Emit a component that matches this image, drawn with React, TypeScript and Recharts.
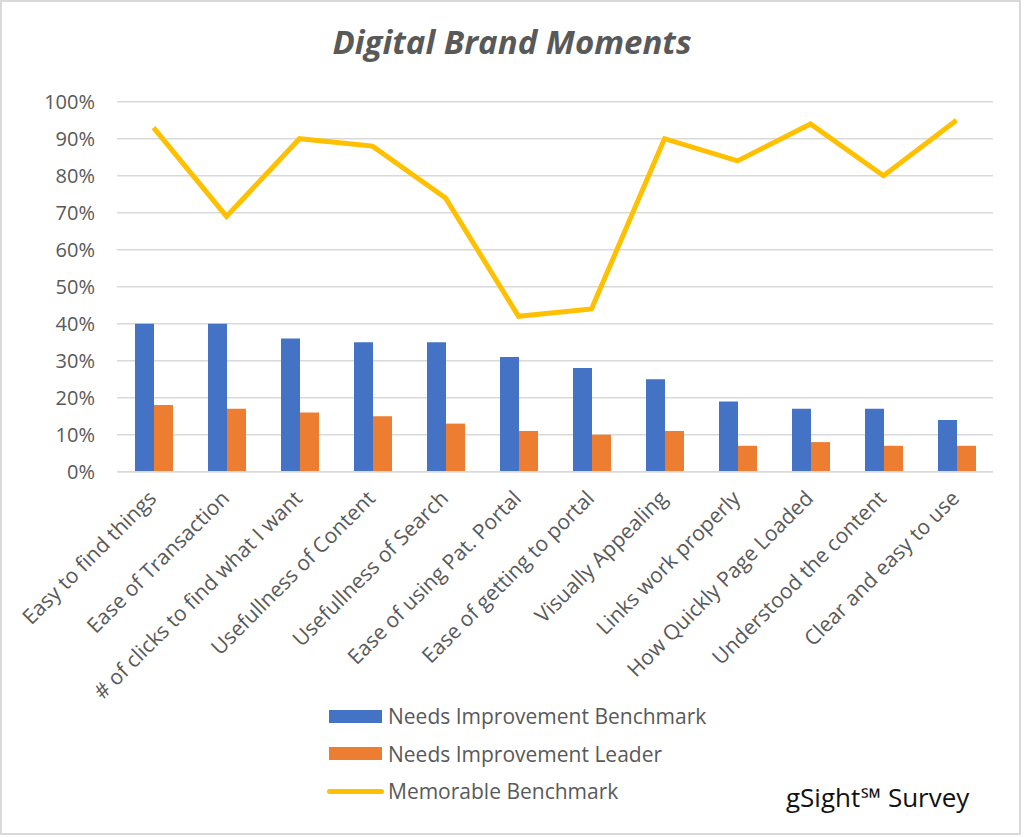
import React from "react";
import { ComposedChart, Bar, Line, XAxis, YAxis, CartesianGrid } from "recharts";

const categories = [
  "Easy to find things",
  "Ease of Transaction",
  "# of clicks to find what I want",
  "Usefullness of Content",
  "Usefullness of Search",
  "Ease of using Pat. Portal",
  "Ease of getting to portal",
  "Visually Appealing",
  "Links work properly",
  "How Quickly Page Loaded",
  "Understood the content",
  "Clear and easy to use",
];
const needsImprovementBenchmark = [40, 40, 36, 35, 35, 31, 28, 25, 19, 17, 17, 14];
const needsImprovementLeader = [18, 17, 16, 15, 13, 11, 10, 11, 7, 8, 7, 7];
const memorableBenchmark = [93, 69, 90, 88, 74, 42, 44, 90, 84, 94, 80, 95];
const yTicks = [0, 10, 20, 30, 40, 50, 60, 70, 80, 90, 100];

const seriesInfo = [
  { key: "nib", name: "Needs Improvement Benchmark", color: "#4472C4", kind: "bar" },
  { key: "nil", name: "Needs Improvement Leader", color: "#ED7D31", kind: "bar" },
  { key: "mem", name: "Memorable Benchmark", color: "#FFC000", kind: "line" },
];

const data = categories.map((c, i) => ({
  name: c,
  nib: needsImprovementBenchmark[i],
  nil: needsImprovementLeader[i],
  mem: memorableBenchmark[i],
}));

const FONT = "'Open Sans', sans-serif";
const TEXT = "#595959";

const XTick = (props: any) => {
  const { x, y, payload } = props;
  return (
    <g transform={`translate(${x + 4},${y + 28})`}>
      <text
        x={0}
        y={0}
        textAnchor="end"
        transform="rotate(-45)"
        fill={TEXT}
        fontSize={21}
        fontFamily={FONT}
      >
        {payload.value}
      </text>
    </g>
  );
};

export default function App() {
  return (
    <div style={{ position: "relative", width: 1024, height: 837, background: "#fff" }}>
      <style>{`body{margin:0;}`}</style>
      <div
        style={{
          position: "absolute",
          left: 0,
          top: 0,
          width: 1021,
          height: 835,
          border: "2px solid #D9D9D9",
          boxSizing: "border-box",
        }}
      />
      <div
        style={{
          position: "absolute",
          left: 0,
          width: 1024,
          top: 20,
          textAlign: "center",
          fontFamily: FONT,
          fontWeight: 700,
          fontStyle: "italic",
          fontSize: 33,
          color: TEXT,
          lineHeight: "44px",
        }}
      >
        Digital Brand Moments
      </div>
      <div style={{ position: "absolute", left: 0, top: 0 }}>
        <ComposedChart
          width={1024}
          height={837}
          data={data}
          margin={{ top: 101.7, right: 31, bottom: 145.3, left: 0 }}
          barGap={0}
          barSize={19}
        >
          <CartesianGrid vertical={false} stroke="#D9D9D9" strokeWidth={1.5} />
          <XAxis
            dataKey="name"
            interval={0}
            tick={<XTick />}
            tickLine={false}
            tickSize={0}
            tickMargin={0}
            height={220}
            axisLine={{ stroke: "#D9D9D9", strokeWidth: 1.5 }}
          />
          <YAxis
            domain={[0, 100]}
            ticks={yTicks}
            tickFormatter={(v: number) => `${v}%`}
            width={117}
            axisLine={false}
            tickLine={false}
            tickSize={0}
            tickMargin={22}
            tick={{ fill: TEXT, fontSize: 20, fontFamily: FONT }}
          />
          <Bar dataKey="nib" name={seriesInfo[0].name} fill={seriesInfo[0].color} isAnimationActive={false} />
          <Bar dataKey="nil" name={seriesInfo[1].name} fill={seriesInfo[1].color} isAnimationActive={false} />
          <Line
            dataKey="mem"
            name={seriesInfo[2].name}
            stroke={seriesInfo[2].color}
            strokeWidth={5}
            dot={false}
            type="linear"
            strokeLinejoin="miter"
            isAnimationActive={false}
          />
        </ComposedChart>
      </div>
      {seriesInfo.map((s, i) => (
        <div
          key={s.key}
          style={{
            position: "absolute",
            left: 327,
            top: 716 + i * 37.5 - 15,
            height: 30,
            display: "flex",
            alignItems: "center",
            fontFamily: FONT,
            fontSize: 21,
            color: TEXT,
          }}
        >
          {s.kind === "bar" ? (
            <div style={{ width: 53, height: 13, background: s.color, marginLeft: 2, marginRight: 6 }} />
          ) : (
            <div style={{ width: 57, height: 5, borderRadius: 3, background: s.color, marginRight: 4 }} />
          )}
          <span>{s.name}</span>
        </div>
      ))}
      <div
        style={{
          position: "absolute",
          left: 786,
          top: 779,
          fontFamily: FONT,
          fontSize: 26,
          color: "#111",
          lineHeight: "36px",
        }}
      >
        gSight℠ Survey
      </div>
    </div>
  );
}
